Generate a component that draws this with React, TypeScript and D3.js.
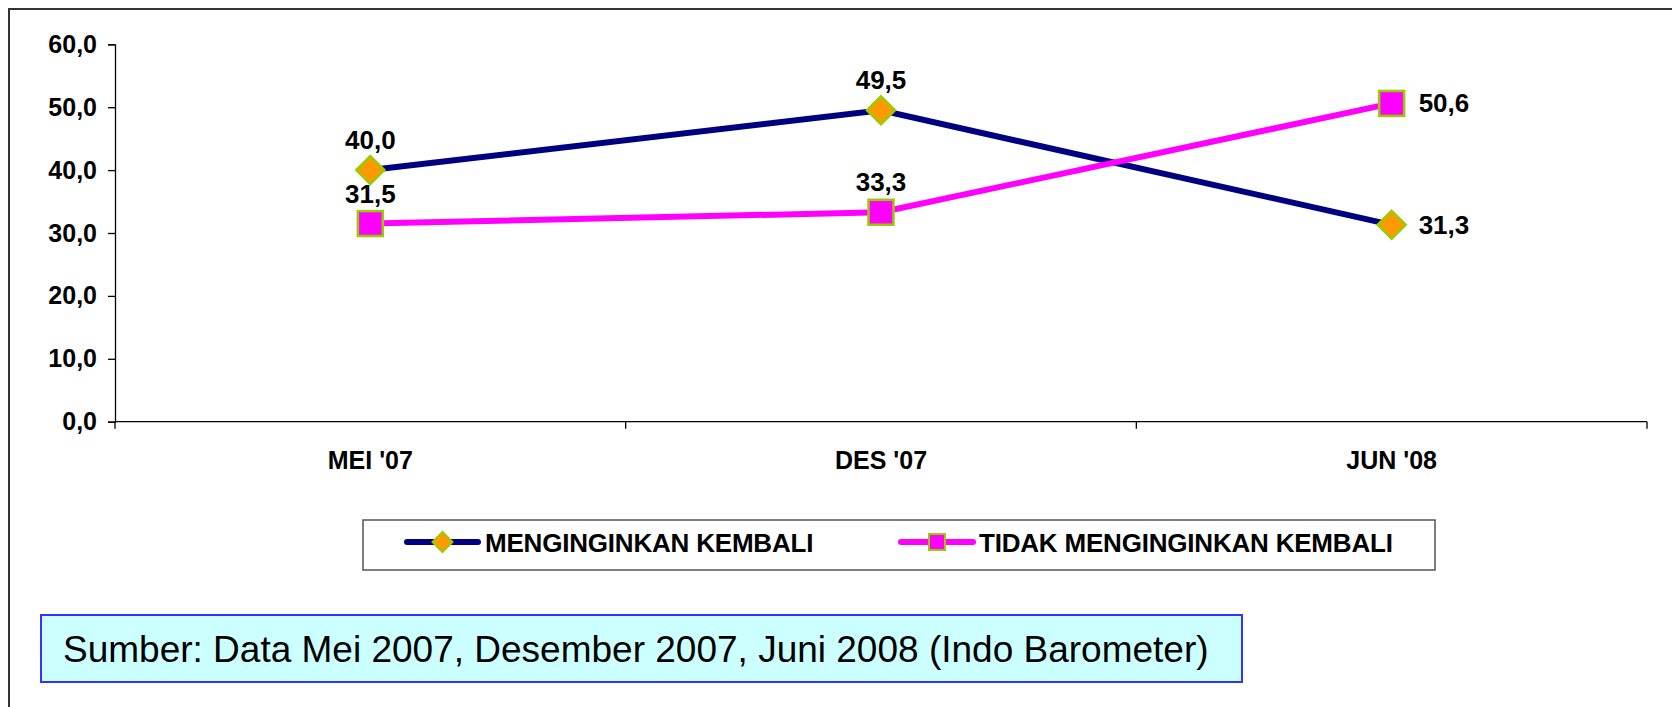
import React, { useEffect, useRef } from 'react';
import * as d3 from 'd3';

const categories = ["MEI '07", "DES '07", "JUN '08"];
const menginginkan = [40.0, 49.5, 31.3];
const tidakMenginginkan = [31.5, 33.3, 50.6];
const yTicks = [0, 10, 20, 30, 40, 50, 60];
const seriesNames = ['MENGINGINKAN KEMBALI', 'TIDAK MENGINGINKAN KEMBALI'];
const sourceText = 'Sumber: Data Mei 2007, Desember 2007, Juni 2008 (Indo Barometer)';

const FONT = '"Liberation Sans", Arial, Helvetica, sans-serif';
const fmt = (v: number) => v.toFixed(1).replace('.', ',');

const App = () => {
  const svgRef = useRef<SVGSVGElement>(null);

  useEffect(() => {
    const svg = d3.select(svgRef.current);
    svg.selectAll('*').remove();

    const width = 1672;
    const height = 707;
    const left = 115;
    const right = 1647;
    const top = 44.3;
    const bottom = 421.7;

    const x = d3.scaleBand().domain(categories).range([left, right]);
    const y = d3.scaleLinear().domain([0, 60]).range([bottom, top]);
    const cx = (c: string) => (x(c) as number) + x.bandwidth() / 2;

    svg.attr('width', width).attr('height', height);

    // outer frame (runs off the right and bottom)
    svg.append('rect')
      .attr('x', 9).attr('y', 9)
      .attr('width', width + 20).attr('height', height + 20)
      .attr('fill', 'white')
      .attr('stroke', '#333')
      .attr('stroke-width', 2);

    // y axis
    const yAxis = svg.append('g')
      .attr('transform', `translate(${left},0)`)
      .call(d3.axisLeft(y).tickValues(yTicks).tickSize(7).tickPadding(11).tickFormat(d => fmt(+d)));
    yAxis.select('.domain').attr('stroke', '#000').attr('stroke-width', 1.3);
    yAxis.selectAll('.tick line').attr('stroke', '#000').attr('stroke-width', 1.3);
    yAxis.selectAll('.tick text')
      .attr('font-family', FONT)
      .attr('font-size', 25)
      .attr('font-weight', 'bold')
      .attr('fill', '#000');

    // x axis
    svg.append('line')
      .attr('x1', left).attr('x2', right)
      .attr('y1', bottom).attr('y2', bottom)
      .attr('stroke', '#000').attr('stroke-width', 1.3);
    const bounds = [...categories.map(c => x(c) as number), right];
    svg.selectAll('.xtick')
      .data(bounds)
      .enter()
      .append('line')
      .attr('x1', d => d).attr('x2', d => d)
      .attr('y1', bottom).attr('y2', bottom + 7)
      .attr('stroke', '#000').attr('stroke-width', 1.3);
    svg.selectAll('.xlabel')
      .data(categories)
      .enter()
      .append('text')
      .attr('x', d => cx(d))
      .attr('y', 469)
      .attr('text-anchor', 'middle')
      .attr('font-family', FONT)
      .attr('font-size', 25)
      .attr('font-weight', 'bold')
      .text(d => d);

    const line = d3.line<number>()
      .x((_, i) => cx(categories[i]))
      .y(d => y(d));

    svg.append('path')
      .datum(menginginkan)
      .attr('d', line)
      .attr('fill', 'none')
      .attr('stroke', '#000080')
      .attr('stroke-width', 6);

    svg.append('path')
      .datum(tidakMenginginkan)
      .attr('d', line)
      .attr('fill', 'none')
      .attr('stroke', '#FF00FF')
      .attr('stroke-width', 6);

    const diamond = (px: number, py: number, r: number) =>
      `M${px},${py - r}L${px + r},${py}L${px},${py + r}L${px - r},${py}Z`;

    svg.selectAll('.dia')
      .data(menginginkan)
      .enter()
      .append('path')
      .attr('d', (d, i) => diamond(cx(categories[i]), y(d), 14))
      .attr('fill', '#FF9900')
      .attr('stroke', '#99CC00')
      .attr('stroke-width', 2.5);

    svg.selectAll('.sq')
      .data(tidakMenginginkan)
      .enter()
      .append('rect')
      .attr('x', (d, i) => cx(categories[i]) - 12.5)
      .attr('y', d => y(d) - 12.5)
      .attr('width', 25).attr('height', 25)
      .attr('fill', '#FF00FF')
      .attr('stroke', '#99CC00')
      .attr('stroke-width', 2.5);

    // data labels
    const addLabels = (values: number[]) => {
      svg.append('g')
        .selectAll('text')
        .data(values)
        .enter()
        .append('text')
        .attr('x', (d, i) => (i === values.length - 1 ? cx(categories[i]) + 27 : cx(categories[i])))
        .attr('y', (d, i) => (i === values.length - 1 ? y(d) + 9 : y(d) - 21))
        .attr('text-anchor', (d, i) => (i === values.length - 1 ? 'start' : 'middle'))
        .attr('font-family', FONT)
        .attr('font-size', 26)
        .attr('font-weight', 'bold')
        .text(d => fmt(d));
    };
    addLabels(menginginkan);
    addLabels(tidakMenginginkan);

    // legend
    const legend = svg.append('g');
    legend.append('rect')
      .attr('x', 363).attr('y', 520)
      .attr('width', 1072).attr('height', 50)
      .attr('fill', 'white')
      .attr('stroke', '#555')
      .attr('stroke-width', 1.5);
    const ly = 542;
    const items = [
      { x1: 407, x2: 478, color: '#000080', tx: 485, shape: 'diamond' },
      { x1: 901, x2: 973, color: '#FF00FF', tx: 979, shape: 'square' },
    ];
    items.forEach((it, i) => {
      const mid = (it.x1 + it.x2) / 2;
      legend.append('line')
        .attr('x1', it.x1).attr('x2', it.x2)
        .attr('y1', ly).attr('y2', ly)
        .attr('stroke', it.color)
        .attr('stroke-width', 6)
        .attr('stroke-linecap', 'round');
      if (it.shape === 'diamond') {
        legend.append('path')
          .attr('d', diamond(mid, ly, 10))
          .attr('fill', '#FF9900')
          .attr('stroke', '#99CC00')
          .attr('stroke-width', 2);
      } else {
        legend.append('rect')
          .attr('x', mid - 8).attr('y', ly - 8)
          .attr('width', 16).attr('height', 16)
          .attr('fill', '#FF00FF')
          .attr('stroke', '#99CC00')
          .attr('stroke-width', 2);
      }
      legend.append('text')
        .attr('x', it.tx)
        .attr('y', 552)
        .attr('font-family', FONT)
        .attr('font-size', 26)
        .attr('font-weight', 'bold')
        .attr('letter-spacing', -0.2)
        .text(seriesNames[i]);
    });

    // source box
    svg.append('rect')
      .attr('x', 41).attr('y', 615)
      .attr('width', 1201).attr('height', 67)
      .attr('fill', '#CCFFFF')
      .attr('stroke', '#3333FF')
      .attr('stroke-width', 2);
    svg.append('text')
      .attr('x', 63)
      .attr('y', 662)
      .attr('font-family', FONT)
      .attr('font-size', 37)
      .text(sourceText);
  }, []);

  return (
    <svg
      ref={svgRef}
      style={{ position: 'absolute', left: 0, top: 0, display: 'block' }}
    ></svg>
  );
};

export default App;
